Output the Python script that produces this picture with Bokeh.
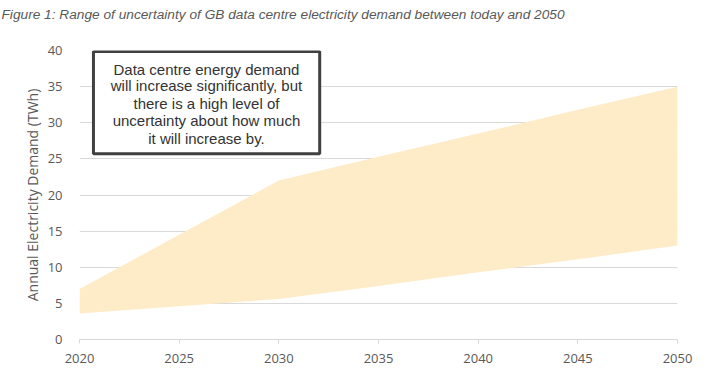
from bokeh.plotting import figure
from bokeh.models import BoxAnnotation, Range1d, FixedTicker, Label, Title
from bokeh.embed import file_html
from bokeh.resources import INLINE

# ---- data ----
years = [2020, 2025, 2030, 2035, 2040, 2045, 2050]
upper = [7.0, 14.5, 22.0, 25.3, 28.5, 31.8, 35.0]
lower = [3.6, 4.6, 5.6, 7.4, 9.3, 11.1, 13.0]
x_ticks = [2020, 2025, 2030, 2035, 2040, 2045, 2050]
y_ticks = [0, 5, 10, 15, 20, 25, 30, 35, 40]
title_text = "Figure 1: Range of uncertainty of GB data centre electricity demand between today and 2050"
y_label = "Annual Electricity Demand (TWh)"
note_lines = [
    "Data centre energy demand",
    "will increase significantly, but",
    "there is a high level of",
    "uncertainty about how much",
    "it will increase by.",
]

GREY = "#595959"
p = figure(width=716, height=376, output_backend="svg", toolbar_location=None, title=None,
           x_range=Range1d(2020, 2050), y_range=Range1d(0, 40),
           min_border_left=79, min_border_right=39, min_border_top=50, min_border_bottom=37)
p.outline_line_color = None
p.background_fill_color = "white"
p.border_fill_color = "white"

# spacer title (closest to the frame) pushes the real title upward
p.add_layout(Title(text=" ", text_font_size="13.7px", standoff=12), "above")
p.add_layout(Title(text=title_text, align="left", offset=-78,
                   text_font="Liberation Sans", text_font_style="italic",
                   text_font_size="13.7px", text_color=GREY, standoff=0), "above")

p.varea(x=years, y1=lower, y2=upper, fill_color="#FEEBC8", fill_alpha=1.0)

p.xgrid.grid_line_color = None
p.ygrid.grid_line_color = "#D9D9D9"
p.ygrid.grid_line_width = 1
p.ygrid.level = "underlay"

p.xaxis.ticker = FixedTicker(ticks=x_ticks)
p.yaxis.ticker = FixedTicker(ticks=y_ticks)
p.xaxis.minor_tick_line_color = None
p.yaxis.minor_tick_line_color = None
p.xaxis.axis_line_color = "#D9D9D9"
p.xaxis.major_tick_line_color = "#D9D9D9"
p.xaxis.major_tick_out = 4
p.xaxis.major_tick_in = 0
p.xaxis.major_label_standoff = 10
p.yaxis.axis_line_color = None
p.yaxis.major_tick_line_color = None
p.yaxis.major_tick_out = 0
p.yaxis.major_tick_in = 0
p.yaxis.major_label_standoff = 17
for ax in (p.xaxis, p.yaxis):
    ax.major_label_text_font = "Open Sans"
    ax.major_label_text_font_size = "13px"
    ax.major_label_text_color = GREY
p.yaxis.axis_label = y_label
p.yaxis.axis_label_text_font = "Open Sans"
p.yaxis.axis_label_text_font_size = "14px"
p.yaxis.axis_label_text_font_style = "normal"
p.yaxis.axis_label_text_color = GREY
p.yaxis.axis_label_standoff = 3

box = BoxAnnotation(left=2020.7, right=2032.05, top=39.85, bottom=25.7,
                    fill_color="white", fill_alpha=1.0,
                    line_color="#404040", line_alpha=1.0, line_width=3, level="overlay")
p.add_layout(box)

note_y = [37.42, 35.1, 32.67, 30.28, 27.83]
for t, yy in zip(note_lines, note_y):
    p.add_layout(Label(x=2026.37, y=yy, text=t, text_align="center", text_baseline="middle",
                       text_font="Liberation Sans", text_font_size="15px",
                       text_color="#333333", level="overlay"))

open("out.html", "w").write(file_html(p, INLINE))
